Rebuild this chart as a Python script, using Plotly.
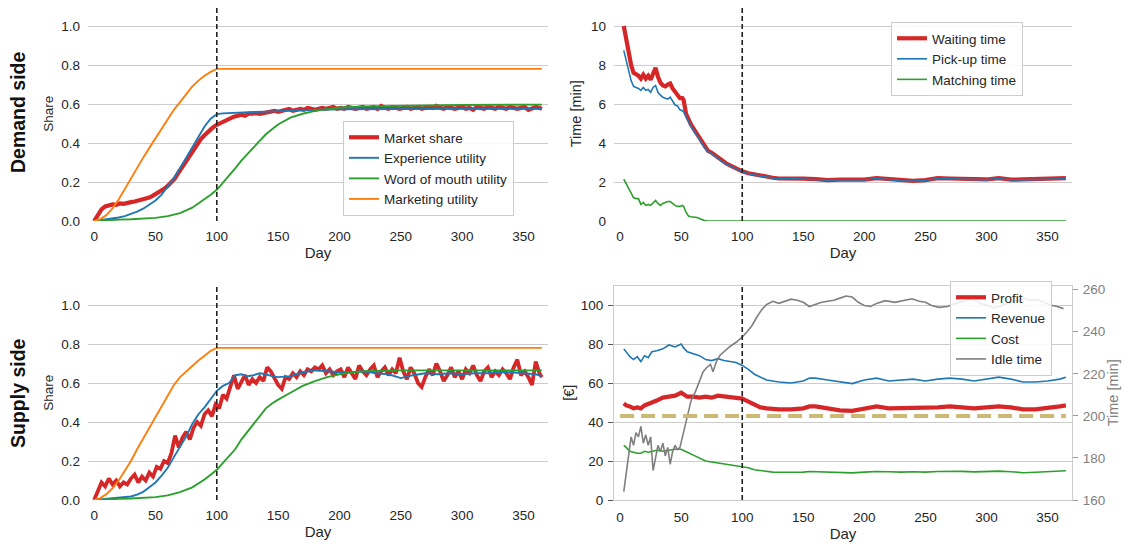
import plotly.graph_objects as go

# ---------------- data ----------------
intervention_day = 100
day_ticks = [0, 50, 100, 150, 200, 250, 300, 350]

# Demand side (top-left)
ms_days = list(range(0, 364, 3)) + [365]
market_share_demand = [
    0.00, 0.03, 0.06, 0.075, 0.08, 0.085, 0.083, 0.09, 0.088, 0.095, 0.097, 0.10,
    0.105, 0.108, 0.115, 0.12, 0.13, 0.14, 0.155, 0.165, 0.18, 0.20, 0.22, 0.25,
    0.28, 0.31, 0.33, 0.36, 0.39, 0.42, 0.44, 0.46, 0.475, 0.49, 0.50, 0.51,
    0.52, 0.53, 0.535, 0.54, 0.545, 0.54, 0.55, 0.55, 0.553, 0.55, 0.555, 0.56,
    0.56, 0.565, 0.56, 0.565, 0.57, 0.575, 0.565, 0.57, 0.575, 0.57, 0.58, 0.575,
    0.57, 0.575, 0.58, 0.575, 0.58, 0.585, 0.575, 0.58, 0.575, 0.585, 0.58, 0.575,
    0.58, 0.585, 0.575, 0.58, 0.585, 0.575, 0.59, 0.58, 0.575, 0.585, 0.58, 0.575,
    0.58, 0.585, 0.575, 0.58, 0.585, 0.575, 0.58, 0.585, 0.58, 0.59, 0.58, 0.575,
    0.585, 0.58, 0.575, 0.58, 0.585, 0.575, 0.58, 0.57, 0.585, 0.58, 0.575, 0.585,
    0.58, 0.575, 0.585, 0.58, 0.575, 0.585, 0.58, 0.575, 0.58, 0.585, 0.57, 0.58,
    0.585, 0.58, 0.575]

exp_demand_days = [0, 5, 10, 15, 20, 25, 30, 35, 40, 45, 50, 55, 60, 65, 70, 75, 80, 85, 90, 95,
                   100, 105, 110, 120, 130, 140, 150, 170, 200, 250, 300, 365]
exp_demand = [0.0, 0.004, 0.008, 0.012, 0.018, 0.025, 0.035, 0.048, 0.063, 0.082, 0.105, 0.135,
              0.175, 0.22, 0.27, 0.325, 0.38, 0.435, 0.485, 0.525, 0.548, 0.552, 0.554, 0.557,
              0.559, 0.561, 0.564, 0.568, 0.573, 0.575, 0.575, 0.575]

wom_demand_days = [0, 10, 20, 30, 40, 50, 60, 70, 80, 85, 90, 95, 100, 105, 110, 115, 120, 125,
                   130, 135, 140, 145, 150, 160, 170, 180, 190, 200, 220, 250, 300, 365]
wom_demand = [0.0, 0.005, 0.007, 0.009, 0.012, 0.016, 0.025, 0.04, 0.068, 0.09, 0.11, 0.135,
              0.16, 0.195, 0.23, 0.27, 0.31, 0.345, 0.38, 0.415, 0.445, 0.47, 0.495, 0.53,
              0.55, 0.565, 0.575, 0.582, 0.588, 0.592, 0.595, 0.597]

mkt_days = [0, 5, 10, 15, 20, 25, 30, 35, 40, 45, 50, 55, 60, 65, 70, 75, 80, 85, 90, 95, 100, 365]
mkt_demand = [0.0, 0.01, 0.03, 0.065, 0.11, 0.165, 0.215, 0.27, 0.325, 0.375, 0.425, 0.475,
              0.525, 0.57, 0.61, 0.65, 0.69, 0.72, 0.745, 0.765, 0.78, 0.78]

# Demand side times (top-right)
time_days = [3, 5, 7, 9, 11, 13, 15, 17, 19, 21, 23, 25, 27, 29, 31, 33, 35, 37, 39, 41, 43, 45,
             47, 49, 51, 52, 54, 56, 58, 60, 63, 66, 69, 72, 75, 78, 81, 84, 87, 90, 93, 96, 100,
             105, 110, 115, 120, 125, 130, 140, 150, 160, 170, 180, 190, 200, 210, 220, 230, 240,
             250, 260, 270, 280, 290, 300, 310, 320, 330, 340, 350, 360, 365]
waiting_time = [10.0, 9.3, 8.6, 8.0, 7.6, 7.55, 7.45, 7.3, 7.5, 7.3, 7.45, 7.25, 7.6, 7.85, 7.4,
                7.1, 6.95, 6.9, 7.0, 7.05, 6.8, 6.6, 6.5, 6.3, 6.3, 6.2, 5.5, 5.2, 4.95, 4.75,
                4.45, 4.15, 3.8, 3.6, 3.5, 3.35, 3.2, 3.05, 2.95, 2.85, 2.75, 2.65, 2.55, 2.45,
                2.38, 2.33, 2.28, 2.22, 2.18, 2.2, 2.17, 2.15, 2.1, 2.12, 2.11, 2.12, 2.2, 2.15,
                2.07, 2.06, 2.1, 2.2, 2.18, 2.15, 2.12, 2.13, 2.2, 2.12, 2.13, 2.15, 2.18, 2.2, 2.2]
pickup_time = [8.75, 8.2, 7.6, 7.2, 6.9, 6.85, 6.8, 6.7, 6.85, 6.7, 6.75, 6.6, 6.85, 6.95, 6.6,
               6.45, 6.35, 6.3, 6.25, 6.35, 6.15, 5.95, 5.9, 5.7, 5.65, 5.6, 5.35, 5.1, 4.85, 4.65,
               4.38, 4.1, 3.77, 3.57, 3.47, 3.32, 3.17, 3.02, 2.92, 2.82, 2.72, 2.62, 2.52, 2.42,
               2.35, 2.3, 2.25, 2.2, 2.16, 2.18, 2.15, 2.13, 2.09, 2.1, 2.09, 2.1, 2.18, 2.13,
               2.06, 2.05, 2.08, 2.18, 2.16, 2.13, 2.1, 2.11, 2.18, 2.1, 2.11, 2.13, 2.16, 2.17, 2.17]
matching_time = [2.15, 1.9, 1.65, 1.4, 1.2, 1.15, 1.15, 0.85, 0.95, 0.8, 0.85, 0.8, 0.95, 1.05,
                 0.9, 0.8, 0.9, 0.95, 1.0, 1.0, 0.9, 0.8, 0.75, 0.75, 0.8, 0.75, 0.45, 0.25, 0.22,
                 0.2, 0.18, 0.1, 0.02, 0.0, 0.0, 0.0, 0.0, 0.0, 0.0, 0.0, 0.0, 0.0, 0.0, 0.0, 0.0,
                 0.0, 0.0, 0.0, 0.0, 0.0, 0.0, 0.0, 0.0, 0.0, 0.0, 0.0, 0.0, 0.0, 0.0, 0.0, 0.0,
                 0.0, 0.0, 0.0, 0.0, 0.0, 0.0, 0.0, 0.0, 0.0, 0.0, 0.0, 0.0]

# Supply side (bottom-left)
market_share_supply = [
    0.00, 0.04, 0.09, 0.07, 0.11, 0.08, 0.10, 0.07, 0.09, 0.08, 0.11, 0.13,
    0.09, 0.12, 0.10, 0.14, 0.12, 0.17, 0.16, 0.20, 0.19, 0.24, 0.33, 0.27,
    0.32, 0.35, 0.31, 0.37, 0.40, 0.38, 0.44, 0.46, 0.43, 0.49, 0.47, 0.54,
    0.52, 0.58, 0.64, 0.57, 0.61, 0.64, 0.59, 0.62, 0.60, 0.63, 0.61, 0.68,
    0.66, 0.62, 0.59, 0.57, 0.63, 0.62, 0.65, 0.63, 0.66, 0.64, 0.67, 0.66,
    0.68, 0.67, 0.69, 0.65, 0.67, 0.64, 0.66, 0.67, 0.63, 0.68, 0.65, 0.62,
    0.69, 0.66, 0.64, 0.67, 0.69, 0.63, 0.66, 0.68, 0.64, 0.67, 0.65, 0.73,
    0.66, 0.62, 0.68, 0.65, 0.60, 0.58, 0.63, 0.67, 0.64, 0.70, 0.66, 0.61,
    0.64, 0.68, 0.63, 0.66, 0.62, 0.67, 0.65, 0.69, 0.64, 0.61, 0.66, 0.68,
    0.63, 0.66, 0.64, 0.67, 0.65, 0.62, 0.68, 0.72, 0.64, 0.66, 0.63, 0.59,
    0.71, 0.65, 0.63]

exp_supply_days = [0, 10, 20, 30, 35, 40, 45, 50, 55, 60, 65, 70, 75, 80, 85, 90, 95, 100, 105,
                   110, 115, 120, 125, 130, 135, 140, 145, 150, 160, 170, 180, 190, 200, 210, 220,
                   230, 240, 250, 260, 270, 280, 290, 300, 310, 320, 330, 340, 350, 360, 365]
exp_supply = [0.0, 0.005, 0.01, 0.018, 0.028, 0.042, 0.065, 0.09, 0.125, 0.165, 0.22, 0.27,
              0.325, 0.39, 0.44, 0.475, 0.52, 0.56, 0.585, 0.6, 0.64, 0.645, 0.635, 0.64, 0.65,
              0.645, 0.635, 0.63, 0.635, 0.655, 0.665, 0.66, 0.655, 0.655, 0.66, 0.65, 0.645,
              0.625, 0.64, 0.65, 0.645, 0.65, 0.645, 0.65, 0.65, 0.655, 0.655, 0.65, 0.645, 0.635]

wom_supply_days = [0, 10, 20, 30, 40, 50, 60, 70, 80, 85, 90, 95, 100, 105, 110, 115, 120, 125,
                   130, 135, 140, 145, 150, 160, 170, 180, 190, 200, 210, 220, 250, 300, 365]
wom_supply = [0.0, 0.004, 0.006, 0.008, 0.011, 0.015, 0.024, 0.04, 0.065, 0.085, 0.105, 0.13,
              0.155, 0.19, 0.225, 0.26, 0.31, 0.35, 0.39, 0.43, 0.47, 0.495, 0.515, 0.55, 0.585,
              0.61, 0.63, 0.645, 0.655, 0.66, 0.665, 0.665, 0.665]

mkt_supply = [0.0, 0.01, 0.03, 0.06, 0.10, 0.15, 0.20, 0.26, 0.315, 0.37, 0.42, 0.475, 0.53,
              0.59, 0.63, 0.66, 0.69, 0.715, 0.74, 0.765, 0.78, 0.78]

# Supply side finance (bottom-right)
fin_days = [3, 5, 8, 11, 14, 17, 20, 23, 26, 30, 35, 40, 45, 50, 52, 55, 60, 65, 70, 75, 80, 85,
            90, 95, 100, 105, 110, 115, 120, 125, 130, 140, 150, 155, 160, 170, 180, 190, 200,
            210, 220, 230, 240, 250, 260, 270, 280, 290, 300, 310, 320, 330, 340, 350, 360, 365]
profit = [49.5, 48.5, 48, 47, 47.5, 47, 48.5, 49, 50, 51, 52.5, 53, 53.5, 55, 54, 53, 53, 52.5,
          53, 52.5, 53.5, 53, 53, 52.5, 52, 50.5, 49, 47.5, 47, 46.7, 46.5, 46.5, 47, 48, 48, 47,
          46, 45.7, 47, 48, 47, 47, 47.5, 47, 47.5, 48, 47.5, 47, 47.5, 48, 47.5, 46.5, 46.5, 47,
          48, 48.5]
revenue = [77.5, 76, 73.5, 72, 73.5, 71, 74, 73, 76, 76.5, 77.5, 79.5, 78.5, 80, 78, 76, 75, 74,
           72, 71.5, 72.5, 71.5, 71, 70.5, 69, 67, 64.5, 63, 61.5, 61, 60.5, 60, 61, 62.5, 62.5,
           61.5, 60.5, 59.7, 61.5, 62.5, 61, 61.5, 62, 61, 62, 62.5, 62, 61, 62, 63, 62, 60.5,
           60.5, 61, 62, 63]
cost = [28, 27, 25, 24.5, 24, 24, 25, 24.5, 25, 25.5, 25, 25.5, 26, 26, 25.5, 24.5, 23, 21.5, 20,
        19.5, 19, 18.5, 18, 17.5, 17, 16.5, 15.5, 15, 14.5, 14.3, 14.2, 14.2, 14.3, 14.6, 14.5,
        14.3, 14, 13.9, 14.3, 14.6, 14.5, 14.3, 14.5, 14.3, 14.6, 14.8, 14.7, 14.4, 14.5, 14.8,
        14.5, 14, 14.2, 14.4, 14.8, 15]

idle_days = [3, 5, 7, 9, 11, 13, 15, 17, 19, 21, 23, 25, 27, 29, 31, 33, 35, 37, 39, 41, 43, 45,
             47, 49, 51, 53, 55, 58, 62, 65, 68, 71, 74, 76, 79, 82, 86, 90, 95, 100, 104, 108,
             112, 116, 120, 125, 130, 135, 140, 145, 150, 155, 160, 165, 170, 175, 180, 185, 190,
             195, 200, 205, 210, 217, 225, 232, 239, 245, 250, 255, 261, 268, 275, 283, 288, 295,
             300, 307, 315, 322, 331, 336, 342, 347, 353, 358, 363]
idle_time = [164, 172, 182, 190, 186, 192, 190, 195, 187, 191, 186, 190, 174, 180, 186, 183, 187,
             181, 185, 177, 183, 186, 184, 185, 190, 196, 201, 207, 212, 217, 221, 223, 224.5,
             221, 226, 229, 231, 233, 235, 237.5, 240, 243, 247, 250.5, 253, 254.5, 253.5, 254.5,
             255.5, 255, 254, 252, 253, 254, 254.5, 255, 256, 257, 256.5, 254, 252.5, 252, 253.5,
             254.8, 254, 255, 255.7, 254.5, 254, 252.5, 251.6, 252, 253.5, 254.8, 255.7, 253.5,
             252.5, 251.3, 253, 254.5, 255.7, 255, 255.2, 254, 252.6, 252, 251]

threshold_days = [0, 365]
idle_threshold = [200, 200]

# ---------------- style ----------------
RED, BLUE, GREEN, ORANGE, GRAY = "#d62728", "#1f77b4", "#2ca02c", "#ff7f0e", "#7f7f7f"
BEIGE = "#ccb974"
TXT = "#262626"
FONT = "Liberation Sans, Arial, sans-serif"

fig = go.Figure()

def line(x, y, name, color, width, xa, ya, legend=None, show=True, dash=None):
    fig.add_trace(go.Scatter(
        x=x, y=y, mode="lines", name=name,
        line=dict(color=color, width=width, dash=dash),
        xaxis=xa, yaxis=ya, showlegend=show,
        legend=legend, legendgroup=name if show else None,
        hoverinfo="skip"))

# top-left
line(ms_days, market_share_demand, "Market share", RED, 4.2, "x", "y", "legend")
line(exp_demand_days, exp_demand, "Experience utility", BLUE, 1.9, "x", "y", "legend")
line(wom_demand_days, wom_demand, "Word of mouth utility", GREEN, 1.9, "x", "y", "legend")
line(mkt_days, mkt_demand, "Marketing utility", ORANGE, 1.9, "x", "y", "legend")

# top-right
line(time_days, waiting_time, "Waiting time", RED, 4.2, "x2", "y2", "legend2")
line(time_days, pickup_time, "Pick-up time", BLUE, 1.6, "x2", "y2", "legend2")
line(time_days, matching_time, "Matching time", GREEN, 1.6, "x2", "y2", "legend2")

# bottom-left
line(ms_days, market_share_supply, "Market share (supply)", RED, 3.8, "x3", "y3", show=False)
line(exp_supply_days, exp_supply, "Experience utility (supply)", BLUE, 1.9, "x3", "y3", show=False)
line(wom_supply_days, wom_supply, "Word of mouth utility (supply)", GREEN, 1.9, "x3", "y3", show=False)
line(mkt_days, mkt_supply, "Marketing utility (supply)", ORANGE, 1.9, "x3", "y3", show=False)

# bottom-right
line(fin_days, profit, "Profit", RED, 4.2, "x4", "y4", "legend3")
line(fin_days, revenue, "Revenue", BLUE, 1.6, "x4", "y4", "legend3")
line(fin_days, cost, "Cost", GREEN, 1.6, "x4", "y4", "legend3")
line(idle_days, idle_time, "Idle time", GRAY, 1.6, "x4", "y5", "legend3")
line(threshold_days, idle_threshold, "Idle threshold", BEIGE, 4, "x4", "y5", show=False,
     dash="14px,7px")

# ---------------- layout ----------------
W, H = 1126, 545
def px_x(a, b):
    return [a / W, b / W]
def px_y(top, bottom):
    return [1 - bottom / H, 1 - top / H]

XL, XR = px_x(88, 548), px_x(614, 1072)
YT, YB = px_y(6.5, 221), px_y(285.5, 500)

TICKSZ = 13.5
xbase = dict(range=[-5, 370], tickvals=day_ticks, showgrid=False, zeroline=False,
             showline=False, ticks="", tickfont=dict(size=TICKSZ, color=TXT, family=FONT),
             title=dict(text="Day", font=dict(size=15, color=TXT, family=FONT), standoff=4),
             ticklabelstandoff=5, automargin=False)
ybase = dict(showgrid=True, gridcolor="#cccccc", gridwidth=1, zeroline=False, showline=False,
             ticks="", tickfont=dict(size=TICKSZ, color=TXT, family=FONT), ticklabelstandoff=7,
             title=dict(font=dict(size=14.5, color=TXT, family=FONT), standoff=6),
             automargin=False)

def merge(base, **kw):
    d = {k: (dict(v) if isinstance(v, dict) else v) for k, v in base.items()}
    for k, v in kw.items():
        if isinstance(v, dict) and isinstance(d.get(k), dict):
            d[k].update(v)
        else:
            d[k] = v
    return d

share_ticks = [0.0, 0.2, 0.4, 0.6, 0.8, 1.0]
share_text = ["0.0", "0.2", "0.4", "0.6", "0.8", "1.0"]

fig.update_layout(
    width=W, height=H, margin=dict(l=0, r=0, t=0, b=0, autoexpand=False),
    paper_bgcolor="white", plot_bgcolor="white",
    font=dict(family=FONT, color=TXT),
    xaxis=merge(xbase, domain=XL, anchor="y"),
    yaxis=merge(ybase, domain=YT, anchor="x", range=[0, 1.1], tickvals=share_ticks,
                ticktext=share_text, title=dict(text="Share", standoff=4,
                font=dict(size=13.5, color=TXT, family=FONT))),
    xaxis2=merge(xbase, domain=XR, anchor="y2"),
    yaxis2=merge(ybase, domain=YT, anchor="x2", range=[0, 11], tickvals=[0, 2, 4, 6, 8, 10],
                 title=dict(text="Time [min]", standoff=5)),
    xaxis3=merge(xbase, domain=XL, anchor="y3"),
    yaxis3=merge(ybase, domain=YB, anchor="x3", range=[0, 1.1], tickvals=share_ticks,
                 ticktext=share_text, title=dict(text="Share", standoff=4,
                 font=dict(size=13.5, color=TXT, family=FONT))),
    xaxis4=merge(xbase, domain=XR, anchor="y4", showline=True, linecolor="#cccccc",
                 linewidth=1, mirror=True),
    yaxis4=merge(ybase, domain=YB, anchor="x4", range=[0, 110], tickvals=[0, 20, 40, 60, 80, 100],
                 showline=True, linecolor="#cccccc", linewidth=1, ticks="outside", ticklen=5,
                 tickcolor="#555555", ticklabelstandoff=2,
                 title=dict(text="[€]", standoff=2)),
    yaxis5=dict(overlaying="y4", side="right", anchor="x4", range=[160, 262],
                tickvals=[160, 180, 200, 220, 240, 260], showgrid=False, zeroline=False,
                showline=True, linecolor="#cccccc", linewidth=1, ticks="outside", ticklen=5,
                tickcolor="#999999", ticklabelstandoff=2, automargin=False,
                tickfont=dict(size=TICKSZ, color="#808080", family=FONT),
                title=dict(text="Time [min]", standoff=3,
                           font=dict(size=14.5, color="#808080", family=FONT))),
)

leg = dict(bgcolor="rgba(255,255,255,0.85)", bordercolor="#cccccc", borderwidth=1,
           font=dict(size=13.5, color=TXT, family=FONT), xanchor="left", yanchor="top",
           itemwidth=30, tracegroupgap=1, traceorder="normal")
fig.update_layout(
    legend=dict(leg, x=343 / W, y=1 - 121 / H),
    legend2=dict(leg, x=891 / W, y=1 - 22 / H),
    legend3=dict(leg, x=950 / W, y=1 - 281 / H),
)

# intervention markers
for xr, yr in [("x", "y"), ("x2", "y2"), ("x3", "y3"), ("x4", "y4")]:
    fig.add_shape(type="line", xref=xr, yref=f"{yr} domain", x0=intervention_day,
                  x1=intervention_day, y0=0, y1=1, layer="above",
                  line=dict(color="#222222", width=1.6, dash="5px,3px"))

# row labels
for text, yc in [("Demand side", 112), ("Supply side", 393)]:
    fig.add_annotation(text=f"<b>{text}</b>", x=18 / W, y=1 - yc / H, xref="paper",
                       yref="paper", xanchor="center", yanchor="middle", showarrow=False,
                       textangle=-90, font=dict(size=19.5, color="#111111", family=FONT))

page_fix = (
    "document.documentElement.style.margin='0';"
    "document.documentElement.style.overflow='hidden';"
    "document.body.style.margin='0';"
    "document.body.style.overflow='hidden';"
)
fig.write_html("out.html", post_script=page_fix,
               config={"displayModeBar": False, "responsive": False})
